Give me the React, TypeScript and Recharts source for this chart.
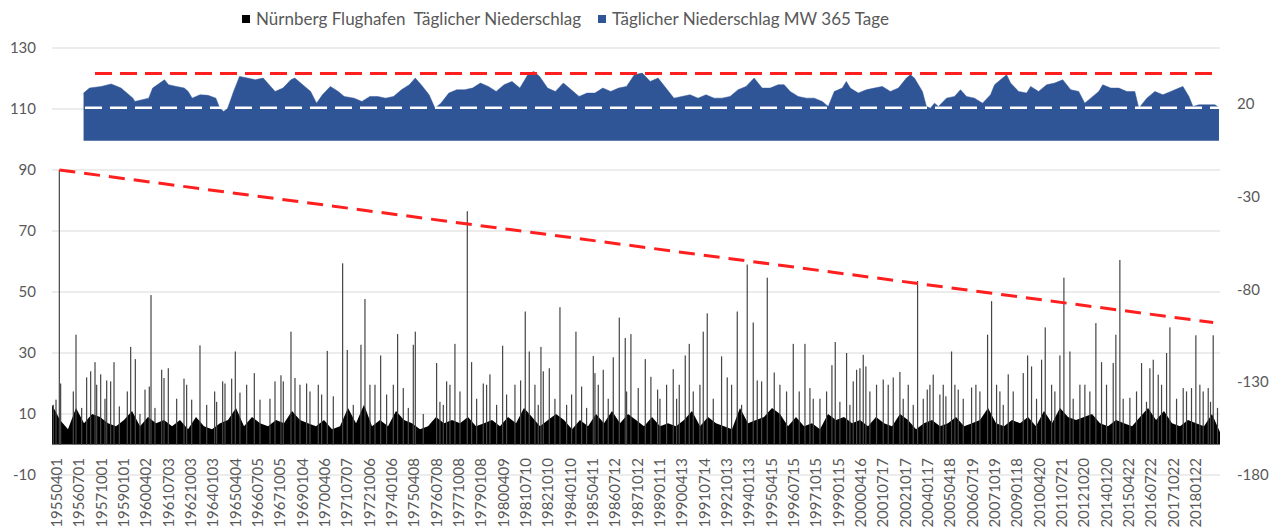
import React from 'react';
import { ComposedChart, Bar, Area, Line, XAxis, YAxis, CartesianGrid, Legend } from 'recharts';

const FONT = 'Lato, "Open Sans", sans-serif';
const TEXT = '#595959';

// x-axis category labels (one every 457 days)
const xTickLabels = [
  '19550401', '19560701', '19571001', '19590101', '19600402', '19610703', '19621003', '19640103',
  '19650404', '19660705', '19671005', '19690104', '19700406', '19710707', '19721006', '19740106',
  '19750408', '19760708', '19771008', '19790108', '19800409', '19810710', '19821010', '19840110',
  '19850411', '19860712', '19871012', '19890111', '19900413', '19910714', '19921013', '19940113',
  '19950415', '19960715', '19971015', '19990115', '20000416', '20010717', '20021017', '20040117',
  '20050418', '20060719', '20071019', '20090118', '20100420', '20110721', '20121020', '20140120',
  '20150422', '20160722', '20171022', '20180122',
];
const tickStepDays = 457;
const lastDay = 23900;

// daily precipitation, taller individual days (day index since 1955-04-01)
const rainDays = [
  150, 177, 491, 709, 791, 880, 996, 1119, 1269, 1610, 1705, 2026, 2244, 2380, 2701, 3028, 3328, 3492,
  3676, 3751, 4140, 4563, 4685, 4890, 4972, 5210, 5449, 5633, 5947, 6042, 6322, 6404, 6609, 6725, 7072,
  7188, 7393, 7434, 7870, 8075, 8245, 8498, 8586, 8825, 8961, 9221, 9589, 9684, 9766, 10005, 10053,
  10176, 10394, 10721, 10837, 11076, 11110, 11280, 11485, 11608, 11730, 11846, 12140, 12255, 12392,
  12712, 12835, 12958, 13040, 13326, 13408, 13701, 13817, 14022, 14226, 14349, 14431, 14636, 14779,
  15168, 15290, 15407, 15509, 15714, 15959, 16027, 16259, 16464, 16532, 16600, 16654, 16872, 17009,
  17214, 17350, 17521, 17712, 17828, 17910, 18032, 18168, 18291, 18407, 18475, 18544, 18817, 18905,
  19144, 19226, 19396, 19567, 19874, 19963, 20044, 20249, 20324, 20454, 20624, 20706, 20829, 21033,
  21135, 21360, 21476, 21715, 21769, 21851, 22056, 22295, 22465, 22534, 22636, 22807, 22875, 23215,
  23317, 23406, 23488, 23659, 23761, 23849,
];
const rainValues = [
  90, 20, 36, 22, 24, 27, 23, 21, 27, 32, 28, 49, 24.5, 25, 21.6, 32.5, 17.4, 20.7,
  21.6, 30.5, 23.4, 20.7, 22.7, 37, 21.8, 20, 19.6, 30.7, 59.4, 31, 32.7, 47.7, 19.6, 29.2, 36.2,
  18.5, 32.7, 37, 26.7, 20.7, 33, 76.5, 27, 20, 23, 32.4, 21, 43.6, 30.5, 32, 24,
  25, 45, 37, 19, 29, 23.4, 24.5, 28.6, 41.6, 34.9, 36.2, 28, 22.2, 18,
  24.7, 19.6, 29.2, 33, 37, 43, 28.9, 22, 43.6, 59, 40, 21, 54.7, 23.6,
  33, 17.4, 33, 18.5, 15, 26, 33.6, 30, 24.5, 25, 29.4, 25.6, 19.6, 21.3,
  22, 23.8, 19.6, 53.6, 15, 18, 22.9, 16.4, 15.8, 30.5, 19.6, 18, 18.7, 19.6,
  36, 47, 17.4, 23, 23.4, 29.2, 25.6, 27.8, 38.4, 19.6, 29.2, 54.7, 30.5, 19.6,
  19.6, 39.8, 27, 26.7, 36, 60.5, 15.3, 26.7, 25, 27.8, 22.9, 30, 38.4, 17.4,
  18.5, 35.8, 19.6, 18.5, 35.8, 12,
];

// daily precipitation, medium days rising out of the dense block
const rainMidDays = [
  27, 82, 436, 607, 914, 1084, 1200, 1378, 1541, 1800, 1903, 1991, 2107, 2292, 2551, 2755, 2858, 3165,
  3369, 3540, 3846, 3983, 4256, 4460, 4733, 5074, 5279, 5517, 5756, 6165, 6506, 6847, 6984, 7291, 7597,
  7938, 8143, 8007, 8348, 8689, 8893, 9098, 9302, 9473, 9882, 9950, 10291, 10530, 10632, 10939, 11178,
  11382, 11758, 11996, 12440, 12576, 12781, 13122, 13258, 13531, 13906, 14111, 14520, 14895, 15031,
  15577, 15850, 16122, 16395, 16327, 16736, 17111, 17418, 17623, 17964, 18237, 18646, 18987, 19328,
  19465, 19669, 20146, 20521, 20896, 21237, 21578, 21919, 22192, 22396, 22704, 23011, 23147, 23556, 23706,
];
const rainMidValues = [
  13, 14.7, 17.4, 12, 19.6, 15, 20.7, 12.5, 17.4, 10, 18, 19, 12, 21.8, 15, 19.6, 14.7, 13,
  14, 20, 17, 19.6, 14.7, 15, 20.7, 19.6, 17.4, 16.4, 15.8, 13, 19.6, 16.4, 19.6, 12, 10,
  14, 19.6, 13, 17.4, 15, 19.6, 13, 16.4, 19.6, 19.6, 13, 15, 13, 16.4, 12, 19.6,
  15, 17.4, 18.5, 15, 19.6, 15, 17.4, 19.6, 15, 19.6, 13, 20.7, 19.6, 17.4,
  15, 17.4, 14, 20.7, 13, 17.4, 19.6, 15, 13, 19.6, 19.6, 15, 17.4, 19.6,
  13, 17.4, 15, 17.4, 15, 17.4, 19.6, 15, 17.4, 14, 19.6, 15, 18.5, 17.4, 14,
];

// dense mass of everyday precipitation (envelope of the black block)
const bulkStepDays = 163.7;
const bulkValues = [
  13, 8, 5, 12, 7, 10, 9, 7, 6, 8, 11, 6, 9, 7, 8, 6, 8, 5, 9, 6, 5, 7, 8, 12, 6, 9, 7, 6, 8, 7, 11, 8, 7, 6, 8,
  5, 6, 12, 7, 13, 6, 8, 6, 11, 8, 7, 5, 6, 9, 7, 8,
  7, 9, 6, 7, 8, 6, 9, 7, 12, 9, 6, 8, 10, 8, 5, 8, 6, 10, 7, 11, 7, 10, 8, 6, 9, 6, 7, 6, 8, 11, 6, 9, 7, 6,
  5, 12, 7, 8, 9, 12, 10, 6, 9, 6, 7, 5, 10, 8, 9, 7,
  8, 6, 9, 7, 6, 10, 8, 5, 7, 8, 6, 7, 9, 6, 7, 8, 12, 7, 6, 8, 7, 9, 6, 11, 7, 12, 9, 8, 9, 10, 7, 6, 8, 7,
  6, 9, 12, 8, 11, 7, 6, 8, 7, 6, 10, 4,
];

// 365-day moving average (right axis)
const mwDays = [
  646, 767, 1009, 1211, 1413, 1656, 1696, 1979, 2060, 2302, 2383, 2545, 2706, 2787, 2868, 3029, 3191, 3353,
  3433, 3514, 3595, 3716, 3837, 3999, 4161, 4322, 4443, 4565, 4726, 4888, 4969, 5130, 5292, 5413, 5534,
  5696, 5857, 5979, 6181, 6342, 6504, 6665, 6827, 6989, 7150, 7312, 7433, 7554, 7716, 7837, 7958, 8120,
  8281, 8443, 8605, 8766, 8928, 9089, 9251, 9413, 9574, 9736, 9857, 9978, 10140, 10301, 10463, 10625,
  10786, 10948, 11109, 11271, 11433, 11594, 11756, 11917, 12079, 12241, 12402, 12563, 12727, 12891,
  13055, 13219, 13383, 13547, 13711, 13875, 14039, 14203, 14367, 14531, 14695, 14859, 14982, 15105,
  15269, 15433, 15597, 15761, 15884, 16007, 16171, 16253, 16335, 16499, 16663, 16827, 16991, 17155,
  17319, 17483, 17565, 17647, 17811, 17893, 17975, 18057, 18139, 18303, 18467, 18590, 18713, 18877,
  19041, 19205, 19287, 19451, 19533, 19615, 19779, 19943, 20025, 20189, 20353, 20517, 20681, 20845,
  21009, 21132, 21255, 21419, 21501, 21665, 21829, 21993, 22157, 22239, 22403, 22567, 22731, 22895,
  23059, 23141, 23264, 23346, 23469, 23633, 23797, 23879,
];
const mwValues = [
  25.7, 28.4, 29.3, 30.6, 28.4, 23.0, 21.2, 23.0, 28.4, 32.9, 30.2, 29.3, 28.4, 26.6, 23.0, 24.8, 24.5, 23.0,
  17.6, 15.8, 17.6, 26.6, 34.7, 33.8, 32.9, 33.8, 30.2, 26.6, 28.4, 32.9, 33.8, 30.2, 26.6, 20.3, 24.8,
  29.3, 26.6, 23.9, 23.0, 21.2, 23.9, 23.9, 23.0, 23.9, 27.5, 30.2, 33.8, 30.2, 24.8, 17.6, 20.3, 25.7,
  27.5, 27.5, 28.4, 31.1, 29.3, 26.6, 30.2, 32.0, 28.4, 35.6, 37.4, 34.7, 28.4, 26.6, 31.1, 27.5,
  23.9, 25.7, 25.7, 28.4, 26.6, 28.4, 29.3, 35.6, 36.5, 32.0, 33.8, 28.4, 23.0, 23.9,
  24.8, 23.0, 24.8, 23.0, 23.0, 23.9, 27.5, 29.3, 33.8, 28.4, 28.4, 30.2, 30.2, 26.6,
  23.9, 23.0, 23.0, 21.2, 18.5, 26.6, 28.4, 32.0, 28.4, 25.7, 27.5, 28.4, 29.3, 26.6,
  28.4, 33.8, 35.6, 33.8, 26.6, 18.5, 17.6, 20.3, 18.5, 23.0, 23.9, 27.5, 23.9, 23.0,
  20.3, 24.8, 30.2, 33.8, 35.6, 31.1, 26.6, 25.7, 29.3, 26.6, 30.2, 31.1, 32.9, 27.5,
  26.6, 20.3, 23.0, 26.6, 30.2, 28.4, 28.4, 26.6, 26.6, 17.6, 23.0, 26.6, 24.8, 26.6,
  28.4, 29.3, 23.9, 18.5, 19.4, 19.4, 19.4, 18.0,
];

// reference lines
const trendDays = [150, 23760];
const trendValues = [90, 40];
const mwMaxDays = [880, lastDay];
const mwMaxValue = 36.3;
const mwMinDays = [675, lastDay];
const mwMinValue = 17.8;

const RAIN_NAME = 'Nürnberg Flughafen  Täglicher Niederschlag';
const MW_NAME = 'Täglicher Niederschlag MW 365 Tage';

const rainData = [
  ...rainDays.map((day, i) => ({ day, rain: rainValues[i] })),
  ...rainMidDays.map((day, i) => ({ day, rain: rainMidValues[i] })),
].sort((a, b) => a.day - b.day);
const bulkData = bulkValues.map((v, i) => ({ day: Math.round(i * bulkStepDays), bulk: v }));
const mwData = mwDays.map((day, i) => ({ day, mw: mwValues[i] }));
const trendData = trendDays.map((day, i) => ({ day, trend: trendValues[i] }));
const mwMaxData = mwMaxDays.map((day) => ({ day, mwMax: mwMaxValue }));
const mwMinData = mwMinDays.map((day) => ({ day, mwMin: mwMinValue }));

const xTicks = xTickLabels.map((_, i) => i * tickStepDays);

const XTick = (props: any) => {
  const { x, y, payload } = props;
  const idx = Math.round(payload.value / tickStepDays);
  const tx = x + 4;
  const ty = y - 17;
  return (
    <text
      x={tx}
      y={ty}
      transform={`rotate(-90 ${tx} ${ty})`}
      textAnchor="end"
      dominantBaseline="central"
      fill={TEXT}
      fontSize={15}
      fontFamily={FONT}
    >
      {xTickLabels[idx]}
    </text>
  );
};

// thin daily bar, centred on the position the library computed
const ThinBar = (props: any) => {
  const { x, y, width, height } = props;
  if (height == null || !isFinite(height) || height <= 0) return null;
  const cx = x + (width || 0) / 2;
  return <rect x={cx - 0.6} y={y} width={1.2} height={height} fill="#454545" />;
};

const LegendContent = (props: any) => {
  const order = [RAIN_NAME, MW_NAME];
  const items = (props.payload || [])
    .filter((p: any) => order.includes(p.value))
    .sort((a: any, b: any) => order.indexOf(a.value) - order.indexOf(b.value));
  return (
    <div style={{ display: 'flex', alignItems: 'center', fontFamily: FONT, fontSize: 17, color: TEXT, whiteSpace: 'pre' }}>
      {items.map((p: any) => (
        <span key={p.value} style={{ display: 'flex', alignItems: 'center', marginRight: 17 }}>
          <span style={{ display: 'inline-block', width: 8, height: 8, background: p.value === RAIN_NAME ? '#000' : '#2F5597', marginRight: 6 }} />
          {p.value}
        </span>
      ))}
    </div>
  );
};

export default function App() {
  return (
    <div style={{ position: 'absolute', left: 0, top: 0, width: 1279, height: 531, background: '#fff' }}>
      <ComposedChart width={1279} height={531} data={rainData} margin={{ top: 48, right: 0, left: 0, bottom: 0 }}>
        <CartesianGrid yAxisId="left" vertical={false} stroke="#d9d9d9" strokeWidth={1} />
        <XAxis
          dataKey="day"
          type="number"
          domain={[0, lastDay]}
          ticks={xTicks}
          interval={0}
          height={56}
          axisLine={false}
          tickLine={false}
          tickSize={0}
          tickMargin={0}
          tick={<XTick />}
        />
        <YAxis
          yAxisId="left"
          domain={[-10, 130]}
          ticks={[-10, 10, 30, 50, 70, 90, 110, 130]}
          width={52}
          axisLine={false}
          tickLine={false}
          tickSize={0}
          tickMargin={16}
          tick={{ fill: TEXT, fontSize: 15, fontFamily: FONT }}
        />
        <YAxis
          yAxisId="right"
          orientation="right"
          domain={[-180, 50]}
          ticks={[-180, -130, -80, -30, 20]}
          width={59}
          axisLine={false}
          tickLine={false}
          tickSize={0}
          tickMargin={17}
          tick={{ fill: TEXT, fontSize: 15, fontFamily: FONT }}
        />
        <Legend
          layout="horizontal"
          verticalAlign="middle"
          align="center"
          wrapperStyle={{ top: 8, left: 242, width: 760 }}
          content={<LegendContent />}
        />
        <Area
          yAxisId="right"
          data={mwData}
          dataKey="mw"
          name={MW_NAME}
          type="linear"
          stroke="#2F5597"
          strokeWidth={0.5}
          fill="#2F5597"
          fillOpacity={1}
          baseValue={0}
          dot={false}
          activeDot={false}
          legendType="square"
          isAnimationActive={false}
        />
        <Area
          yAxisId="left"
          data={bulkData}
          dataKey="bulk"
          type="linear"
          stroke="none"
          fill="#000"
          fillOpacity={1}
          baseValue={0}
          dot={false}
          activeDot={false}
          legendType="none"
          isAnimationActive={false}
        />
        <Bar
          yAxisId="left"
          dataKey="rain"
          name={RAIN_NAME}
          fill="#000"
          barSize={1}
          shape={<ThinBar />}
          legendType="square"
          isAnimationActive={false}
        />
        <Line
          yAxisId="left"
          data={trendData}
          dataKey="trend"
          type="linear"
          stroke="#FF1F1F"
          strokeWidth={3}
          strokeDasharray="16 9"
          dot={false}
          activeDot={false}
          legendType="none"
          isAnimationActive={false}
        />
        <Line
          yAxisId="right"
          data={mwMaxData}
          dataKey="mwMax"
          type="linear"
          stroke="#FF1F1F"
          strokeWidth={3}
          strokeDasharray="17 8"
          dot={false}
          activeDot={false}
          legendType="none"
          isAnimationActive={false}
        />
        <Line
          yAxisId="right"
          data={mwMinData}
          dataKey="mwMin"
          type="linear"
          stroke="#ffffff"
          strokeWidth={2.5}
          strokeDasharray="17 8"
          dot={false}
          activeDot={false}
          legendType="none"
          isAnimationActive={false}
        />
      </ComposedChart>
    </div>
  );
}
